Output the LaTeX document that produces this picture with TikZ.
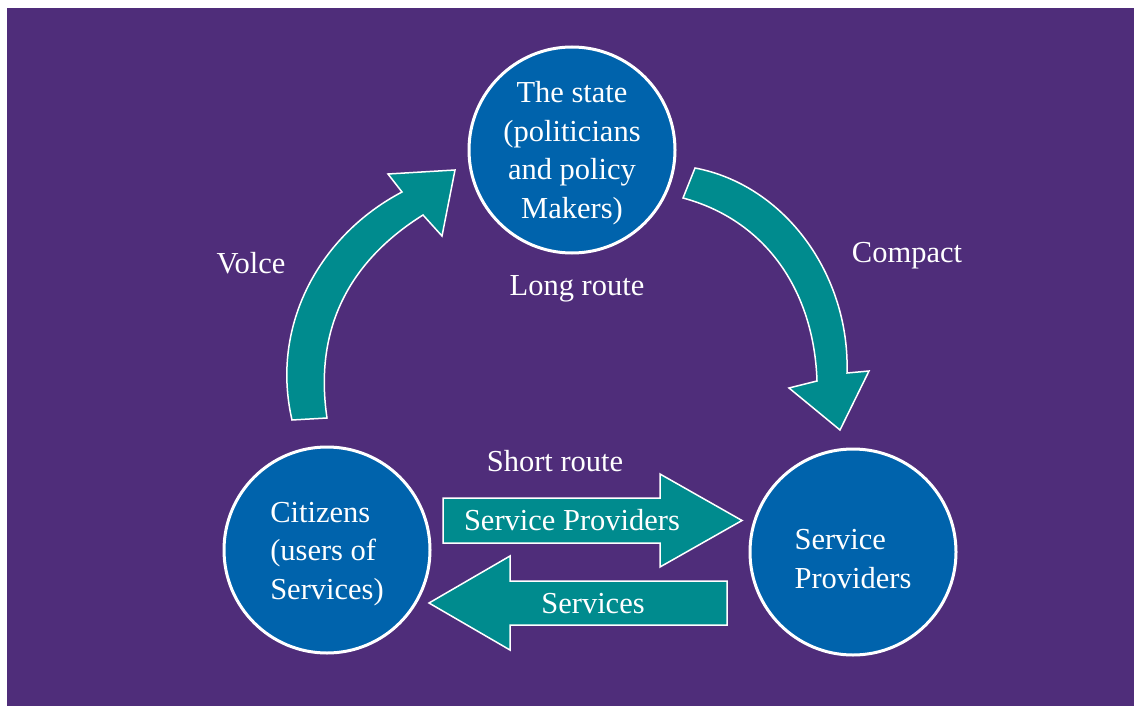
\documentclass[tikz,border=0pt]{standalone}
\usepackage{fontspec}
\setmainfont{Liberation Serif}
\usepackage{tikz}
\usetikzlibrary{positioning}
\definecolor{bgpurple}{RGB}{79,45,122}
\definecolor{hubblue}{RGB}{0,99,172}
\definecolor{flowteal}{RGB}{0,139,142}

\begin{document}
\begin{tikzpicture}[x=1pt, y=-1pt, font=\fontsize{30.5}{38.5}\selectfont,
    hub/.style={circle, draw=white, line width=3pt, fill=hubblue, minimum size=206pt, inner sep=0pt},
    flow/.style={draw=white, line width=1.5pt, fill=flowteal},
    lbl/.style={text=white, inner sep=0pt}]
\useasboundingbox (0,0) rectangle (1134,706);
\fill[bgpurple] (7,8) rectangle (1134,706);

\node[hub] (state) at (572,150) {};
\node[hub] (citizens) at (327,550) {};
\node[hub] (provider) at (853,552) {};
\node[lbl, align=center] at ([yshift=-3pt]state.center) {The state\\(politicians\\and policy\\Makers)};
\node[lbl, align=left] at ([yshift=-4pt]citizens.center) {Citizens\\(users of\\Services)};
\node[lbl, align=left] at ([yshift=-7pt]provider.center) {Service\\Providers};

% long route
\draw[flow] (292,420) .. controls (270,325) and (320,235) .. (402,192) -- (388,174) -- (455,170)
    -- (442,236) -- (423,215) .. controls (348,262) and (314,330) .. (327,418) -- cycle;
\draw[flow] (695,168) .. controls (785,185) and (850,275) .. (847,373) -- (869,371) -- (840,430)
    -- (789,388) -- (817,381) .. controls (814,290) and (765,220) .. (683,198) -- cycle;

% short route
\draw[flow] (443,498) -- (660,498) -- (660,474) -- (742,520.5) -- (660,567) -- (660,543) -- (443,543) -- cycle;
\draw[flow] (727,581) -- (510,581) -- (510,556) -- (429,603) -- (510,650) -- (510,625) -- (727,625) -- cycle;

\node[lbl, anchor=base] (toprov) at (572,530) {Service Providers};
\node[lbl, anchor=base] (toserv) at (593,613) {Services};
\node[lbl, anchor=base] (voice) at (251,273) {Volce};
\node[lbl, anchor=base] (longroute) at (577,295) {Long route};
\node[lbl, anchor=base] (compact) at (907,262) {Compact};
\node[lbl, anchor=base] (shortroute) at (555,471) {Short route};

\end{tikzpicture}
\end{document}
